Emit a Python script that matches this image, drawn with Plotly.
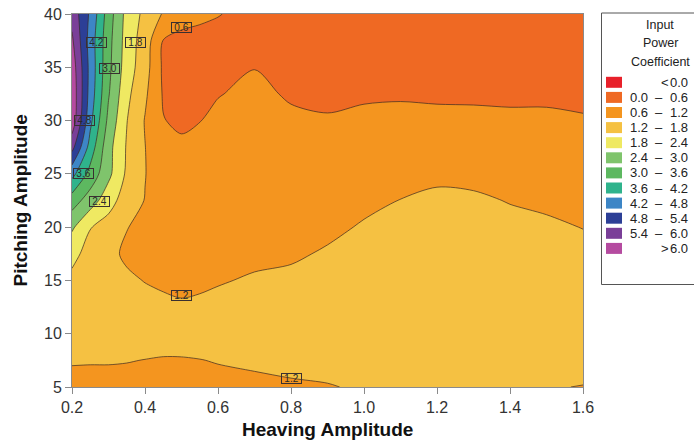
import plotly.graph_objects as go

# Heaving amplitude (x) and pitching amplitude (y) grid
heave = [0.2, 0.25, 0.3, 0.35, 0.4, 0.45, 0.5, 0.55, 0.6, 0.7, 0.8,
         0.9, 1.0, 1.1, 1.2, 1.3, 1.4, 1.5, 1.6]
pitch = [5, 7.5, 10, 12.5, 15, 17.5, 20, 22.5, 25, 27.5, 30, 32.5, 35, 37.5, 40]

# Input power coefficient, one column per heaving amplitude (ordered by pitch)
cp_h020 = [1.00, 1.25, 1.45, 1.60, 1.70, 1.92, 2.50, 3.30, 4.40, 5.60, 6.40, 6.45, 6.35, 6.10, 5.80]
cp_h025 = [1.00, 1.24, 1.45, 1.55, 1.62, 1.65, 1.82, 2.70, 3.40, 3.95, 4.35, 4.55, 4.60, 4.55, 4.70]
cp_h030 = [1.00, 1.24, 1.45, 1.50, 1.45, 1.35, 1.55, 2.05, 2.55, 2.60, 2.85, 3.05, 3.15, 3.20, 3.30]
cp_h035 = [1.02, 1.22, 1.45, 1.45, 1.30, 1.10, 1.22, 1.50, 1.70, 1.75, 1.82, 1.95, 2.10, 2.15, 2.20]
cp_h040 = [1.05, 1.19, 1.45, 1.40, 1.18, 1.00, 1.05, 1.18, 1.22, 1.21, 1.17, 1.30, 1.45, 1.50, 1.65]
cp_h045 = [1.00, 1.16, 1.45, 1.40, 1.05, 0.90, 0.85, 0.85, 0.85, 0.80, 0.62, 0.55, 0.50, 0.58, 1.15]
cp_h050 = [1.00, 1.17, 1.40, 1.30, 1.00, 0.85, 0.80, 0.78, 0.75, 0.70, 0.50, 0.40, 0.40, 0.50, 0.75]
cp_h055 = [1.05, 1.19, 1.40, 1.35, 1.05, 0.90, 0.85, 0.82, 0.80, 0.72, 0.59, 0.45, 0.42, 0.48, 0.68]
cp_h060 = [1.08, 1.22, 1.40, 1.38, 1.15, 0.95, 0.88, 0.85, 0.82, 0.76, 0.70, 0.58, 0.45, 0.45, 0.62]
cp_h070 = [1.10, 1.27, 1.42, 1.42, 1.27, 1.05, 0.95, 0.90, 0.87, 0.83, 0.78, 0.70, 0.59, 0.48, 0.45]
cp_h080 = [1.15, 1.30, 1.42, 1.45, 1.32, 1.12, 0.98, 0.92, 0.88, 0.80, 0.68, 0.55, 0.45, 0.42, 0.42]
cp_h090 = [1.18, 1.32, 1.42, 1.45, 1.40, 1.26, 1.08, 0.97, 0.90, 0.80, 0.64, 0.50, 0.44, 0.42, 0.42]
cp_h100 = [1.24, 1.35, 1.42, 1.45, 1.45, 1.38, 1.25, 1.08, 0.97, 0.85, 0.68, 0.55, 0.45, 0.42, 0.42]
cp_h110 = [1.27, 1.36, 1.42, 1.45, 1.45, 1.42, 1.35, 1.21, 1.02, 0.88, 0.70, 0.56, 0.46, 0.42, 0.42]
cp_h120 = [1.28, 1.36, 1.42, 1.45, 1.46, 1.45, 1.40, 1.30, 1.10, 0.90, 0.68, 0.55, 0.45, 0.42, 0.42]
cp_h130 = [1.27, 1.36, 1.42, 1.45, 1.45, 1.43, 1.38, 1.27, 1.08, 0.88, 0.67, 0.55, 0.45, 0.42, 0.42]
cp_h140 = [1.25, 1.35, 1.42, 1.44, 1.43, 1.40, 1.32, 1.18, 1.02, 0.86, 0.65, 0.55, 0.45, 0.42, 0.42]
cp_h150 = [1.22, 1.33, 1.41, 1.43, 1.42, 1.40, 1.27, 1.12, 0.98, 0.84, 0.65, 0.55, 0.45, 0.42, 0.42]
cp_h160 = [1.19, 1.32, 1.40, 1.42, 1.40, 1.32, 1.19, 1.08, 0.97, 0.83, 0.63, 0.52, 0.45, 0.42, 0.42]

columns = [cp_h020, cp_h025, cp_h030, cp_h035, cp_h040, cp_h045, cp_h050, cp_h055,
           cp_h060, cp_h070, cp_h080, cp_h090, cp_h100, cp_h110, cp_h120, cp_h130,
           cp_h140, cp_h150, cp_h160]
z = [[col[i] for col in columns] for i in range(len(pitch))]

# Contour levels and band colours (below first level ... above last level)
level_start, level_end, level_step = 0.0, 6.0, 0.6
band_colors = ["#e8202a", "#ef6923", "#f4951f", "#f5c142", "#efe962", "#7fc46c",
               "#5db860", "#2fb38c", "#3d86c6", "#2c3f96", "#7a3f98", "#b54ba0"]

# Inline contour labels: value and where it sits on its line
contour_labels = [("4.2", 0.266, 37.3), ("1.8", 0.374, 37.3), ("0.6", 0.501, 38.7),
                  ("3.0", 0.304, 34.9), ("4.8", 0.235, 30.0), ("3.6", 0.2315, 25.0),
                  ("2.4", 0.274, 22.45), ("1.2", 0.5005, 13.57), ("1.2", 0.801, 5.83)]

n_bands = len(band_colors)
colorscale = [[k / (n_bands - 1), c] for k, c in enumerate(band_colors)]

fig = go.Figure(go.Contour(
    x=heave, y=pitch, z=z,
    autocontour=False,
    contours=dict(start=level_start, end=level_end, size=level_step,
                  coloring="fill", showlines=True),
    colorscale=colorscale,
    line=dict(color="#3b2a22", width=0.7, smoothing=0.85),
    showscale=False,
    hoverinfo="skip",
))

# plot area in pixels
L, R, T, B = 72, 583, 14, 387
W, H = 694, 441


def px_x(px):
    return (px - L) / (R - L)


def px_y(py):
    return (B - py) / (B - T)


annotations = []
font_family = "Liberation Sans, Arial, sans-serif"

for text, xv, yv in contour_labels:
    annotations.append(dict(
        x=xv, y=yv, xref="x", yref="y", text=text, showarrow=False,
        font=dict(size=10, color="#2a2a2a", family=font_family),
        bordercolor="#3a3030", borderwidth=1, borderpad=0,
        width=19, height=9, align="center"))

# axis titles
annotations.append(dict(x=0.5, y=0, xref="paper", yref="paper", text="<b>Heaving Amplitude</b>",
                        showarrow=False, yanchor="middle", yshift=-(429 - B),
                        font=dict(size=19, color="#111", family=font_family)))
annotations.append(dict(x=0, y=0.5, xref="paper", yref="paper", text="<b>Pitching Amplitude</b>",
                        showarrow=False, xanchor="center", xshift=20 - L, textangle=-90,
                        font=dict(size=19, color="#111", family=font_family)))

# legend box
shapes = [dict(type="rect", xref="paper", yref="paper",
               x0=px_x(601.5), x1=px_x(710), y0=px_y(284.5), y1=px_y(13),
               line=dict(color="#555", width=1), fillcolor="white", layer="above")]

for i, line in enumerate(["Input", "Power", "Coefficient"]):
    annotations.append(dict(x=px_x(660), y=px_y([25, 43.3, 61.7][i]), xref="paper", yref="paper",
                            text=line, showarrow=False, xanchor="center", yanchor="middle",
                            font=dict(size=12.5, color="#222", family=font_family)))

edges = [round(level_start + k * level_step, 1) for k in range(n_bands - 1)]
for k, color in enumerate(band_colors):
    cy = 82.3 + 15.1 * k
    shapes.append(dict(type="rect", xref="paper", yref="paper",
                       x0=px_x(606), x1=px_x(622), y0=px_y(cy + 5.5), y1=px_y(cy - 5.5),
                       line=dict(width=0), fillcolor=color, layer="above"))
    lf = dict(size=13, color="#222", family=font_family)
    if k == 0:
        parts = [("&lt;", 664.5, "center"), (f"{edges[0]:.1f}", 690, "right")]
    elif k == n_bands - 1:
        parts = [("&gt;", 664.5, "center"), (f"{edges[-1]:.1f}", 690, "right")]
    else:
        parts = [(f"{edges[k - 1]:.1f}", 628, "left"), ("–", 659, "center"),
                 (f"{edges[k]:.1f}", 690, "right")]
    for txt, xp, anchor in parts:
        annotations.append(dict(x=px_x(xp), y=px_y(cy), xref="paper", yref="paper", text=txt,
                                showarrow=False, xanchor=anchor, yanchor="middle", font=lf))

axis_common = dict(showgrid=False, zeroline=False, showline=True, mirror=True,
                   linecolor="#8a8a8a", linewidth=1, ticks="outside", ticklen=6,
                   tickcolor="#8a8a8a", tickfont=dict(size=16, color="#333", family=font_family))

fig.update_layout(
    width=W, height=H,
    margin=dict(l=L, r=W - R, t=T, b=H - B, autoexpand=False),
    paper_bgcolor="white", plot_bgcolor="white",
    xaxis=dict(range=[0.2, 1.6], tickvals=[0.2, 0.4, 0.6, 0.8, 1.0, 1.2, 1.4, 1.6],
               tickformat=".1f", **axis_common),
    yaxis=dict(range=[5, 40], tickvals=[5, 10, 15, 20, 25, 30, 35, 40], **axis_common),
    annotations=annotations, shapes=shapes,
    showlegend=False,
)

fig.write_html("out.html")
